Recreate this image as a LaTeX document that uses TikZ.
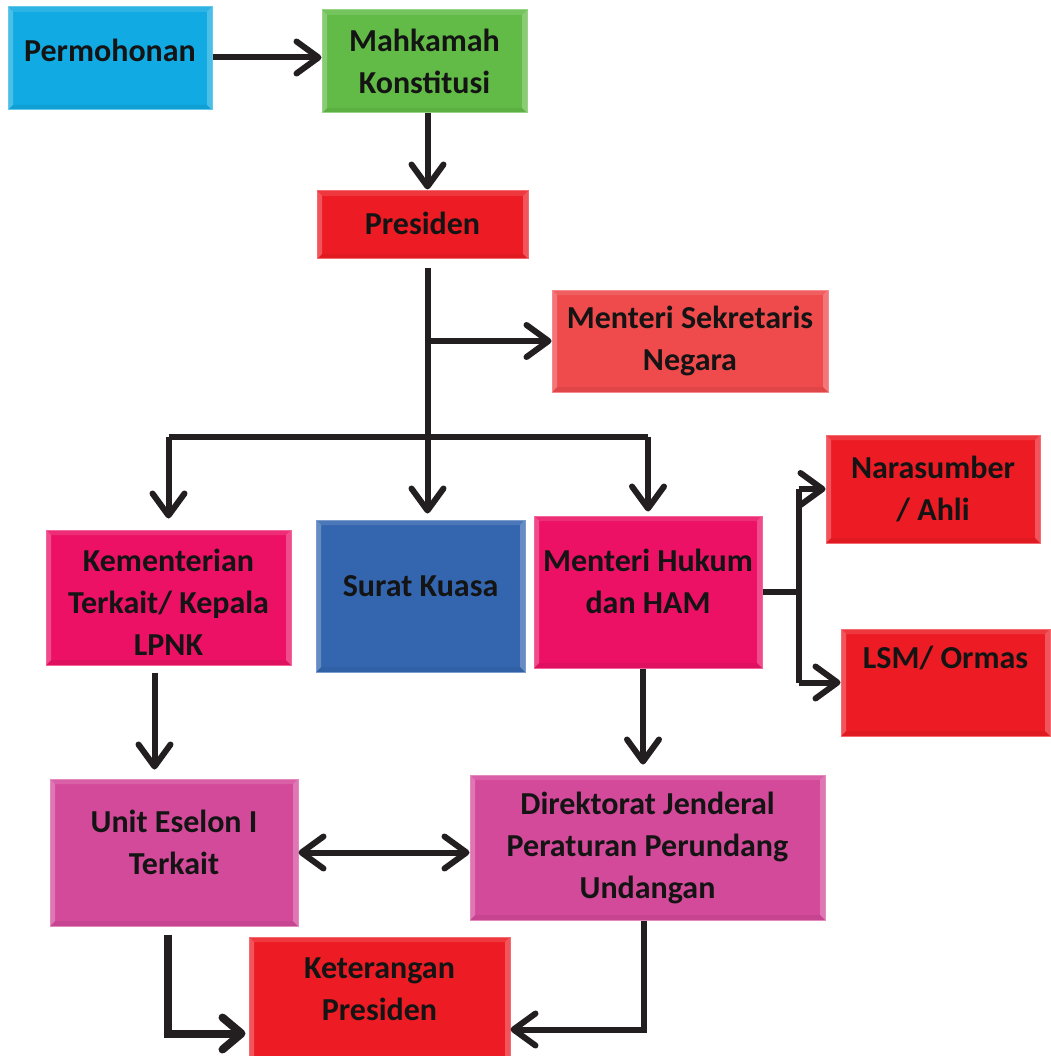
\documentclass[tikz,border=0pt]{standalone}
\usepackage{fontspec}
\setmainfont{Carlito}
\usetikzlibrary{arrows.meta,calc}
\definecolor{biru}{RGB}{17,170,226}
\definecolor{hijau}{RGB}{98,187,70}
\definecolor{merah}{RGB}{237,28,36}
\definecolor{merahmuda}{RGB}{239,74,76}
\definecolor{magenta}{RGB}{236,17,101}
\definecolor{birutua}{RGB}{52,102,176}
\definecolor{ungu}{RGB}{212,74,154}
\definecolor{garis}{RGB}{35,31,32}
\tikzset{
	kotak/.style={draw=#1!65!white, fill=#1, line width=1pt, inner sep=0pt,
		path picture={
			\fill[white,opacity=.25] (path picture bounding box.north west) -- ++(5pt,-5pt)
				-- ($(path picture bounding box.south west)+(5pt,5pt)$) -- (path picture bounding box.south west) -- cycle;
			\fill[white,opacity=.25] (path picture bounding box.north east) -- ++(-5pt,-5pt)
				-- ($(path picture bounding box.south east)+(-5pt,5pt)$) -- (path picture bounding box.south east) -- cycle;
			\fill[white,opacity=.12] (path picture bounding box.north west) -- ++(5pt,-5pt)
				-- ($(path picture bounding box.north east)+(-5pt,-5pt)$) -- (path picture bounding box.north east) -- cycle;
			\fill[black,opacity=.06] (path picture bounding box.south west) -- ++(5pt,5pt)
				-- ($(path picture bounding box.south east)+(-5pt,5pt)$) -- (path picture bounding box.south east) -- cycle;
		}},
	teks/.style={font=\bfseries\fontsize{32}{42}\selectfont, text=black!92, align=center, inner sep=0pt},
	garisan/.style={line width=6pt, draw=garis},
	panah/.style={garisan, -{Straight Barb[length=22pt,width=32pt,round]}},
	panahdua/.style={garisan, {Straight Barb[length=22pt,width=32pt,round]}-{Straight Barb[length=22pt,width=32pt,round]}},
	panahtebal/.style={garisan, line width=8pt, -{Straight Barb[length=19pt,width=32pt,round]}}
}
\begin{document}
\begin{tikzpicture}[x=1pt, y=-1pt]
	%%%%% START %%%%%
	\useasboundingbox (0,0) rectangle (1050,1056);
	
	\node[kotak=biru, minimum width=204pt, minimum height=103pt,
		label={[teks, name=tperm, yshift=8pt]center:Permohonan}] (perm) at (110,58.5) {};
	\node[kotak=hijau, minimum width=205pt, minimum height=103pt,
		label={[teks, name=tmk]center:Mahkamah\\Konstitusi}] (mk) at (424.5,61.5) {};
	\node[kotak=merah, minimum width=211pt, minimum height=68pt,
		label={[teks, name=tpres, yshift=2pt]center:Presiden}] (pres) at (422.5,225) {};
	\node[kotak=merahmuda, minimum width=276pt, minimum height=102pt,
		label={[teks, name=tmss]center:Menteri Sekretaris\\Negara}] (mss) at (690,341) {};
	
	\node[kotak=magenta, minimum width=245pt, minimum height=135pt,
		label={[teks, name=tkem, yshift=-5pt]center:Kementerian\\Terkait/ Kepala\\LPNK}] (kem) at (168.5,597.5) {};
	\node[kotak=birutua, minimum width=209pt, minimum height=152pt,
		label={[teks, name=tsk, yshift=10pt]center:Surat Kuasa}] (sk) at (420.5,596) {};
	\node[kotak=magenta, minimum width=228pt, minimum height=152pt,
		label={[teks, name=tmh, yshift=11pt]center:Menteri Hukum\\dan HAM}] (mh) at (648,592) {};
	\node[kotak=merah, minimum width=214pt, minimum height=108pt,
		label={[teks, name=tnar]center:Narasumber\\/ Ahli}] (nar) at (933,489) {};
	\node[kotak=merah, minimum width=209pt, minimum height=107pt,
		label={[teks, name=tlsm, yshift=25pt]center:LSM/ Ormas}] (lsm) at (945.5,682.5) {};
	
	\node[kotak=ungu, minimum width=248pt, minimum height=147pt,
		label={[teks, name=tues, yshift=10pt]center:Unit Eselon I\\Terkait}] (ues) at (174,852.5) {};
	\node[kotak=ungu, minimum width=355pt, minimum height=145pt,
		label={[teks, name=tdj]center:Direktorat Jenderal\\Peraturan Perundang\\Undangan}] (dj) at (647.5,847.5) {};
	\node[kotak=merah, minimum width=261pt, minimum height=125pt,
		label={[teks, name=tket, yshift=10pt]center:Keterangan\\Presiden}] (ket) at (379.5,999.5) {};
	
	% alur atas
	\draw[panah] ([yshift=1pt]perm.east) -- ([yshift=1pt]perm.east -| mk.west);
	\draw[panah, shorten >=1pt] ([xshift=3pt]mk.south) -- ([xshift=3pt]mk.south |- pres.north);
	\coordinate (batang) at ([xshift=5pt]pres.south);
	\draw[panah, shorten <=9pt, shorten >=6pt] (batang) -- (batang |- sk.north);
	\draw[panah] (batang |- mss.west) -- (mss.west);
	
	% cabang ke bawah
	\coordinate (bagi) at (batang |- 0,437);
	\draw[garisan] (kem.north |- bagi) -- (mh.north |- bagi);
	\draw[panah, shorten >=11pt] (kem.north |- bagi) -- (kem.north);
	\draw[panah, shorten >=4pt] (mh.north |- bagi) -- (mh.north);
	
	% menteri hukum ke narasumber / lsm
	\draw[garisan] (mh.east) -- ++(36,0) coordinate (pisah);
	\draw[garisan] (pisah |- nar.west) -- (pisah |- lsm.west);
	\draw[panah] (pisah |- nar.west) -- (nar.west);
	\draw[panah] (pisah |- lsm.west) -- (lsm.west);
	
	% ke eselon dan dirjen
	\draw[panah, shorten <=7pt, shorten >=9pt] ([xshift=-14pt]kem.south) -- ([xshift=-14pt]kem.south |- ues.north);
	\draw[panah, shorten >=10pt] ([xshift=-5pt]mh.south) -- ([xshift=-5pt]mh.south |- dj.north);
	\draw[panahdua] (ues.east) -- (ues.east -| dj.west);
	
	% ke keterangan presiden
	\draw[panahtebal, shorten <=8pt, shorten >=3pt] ([xshift=-6pt]ues.south) |- ([yshift=-34pt]ket.west);
	\draw[panah] ([xshift=-4pt]dj.south) |- ([yshift=-30pt]ket.east);
	%%%%% END %%%%%
\end{tikzpicture}
\end{document}
